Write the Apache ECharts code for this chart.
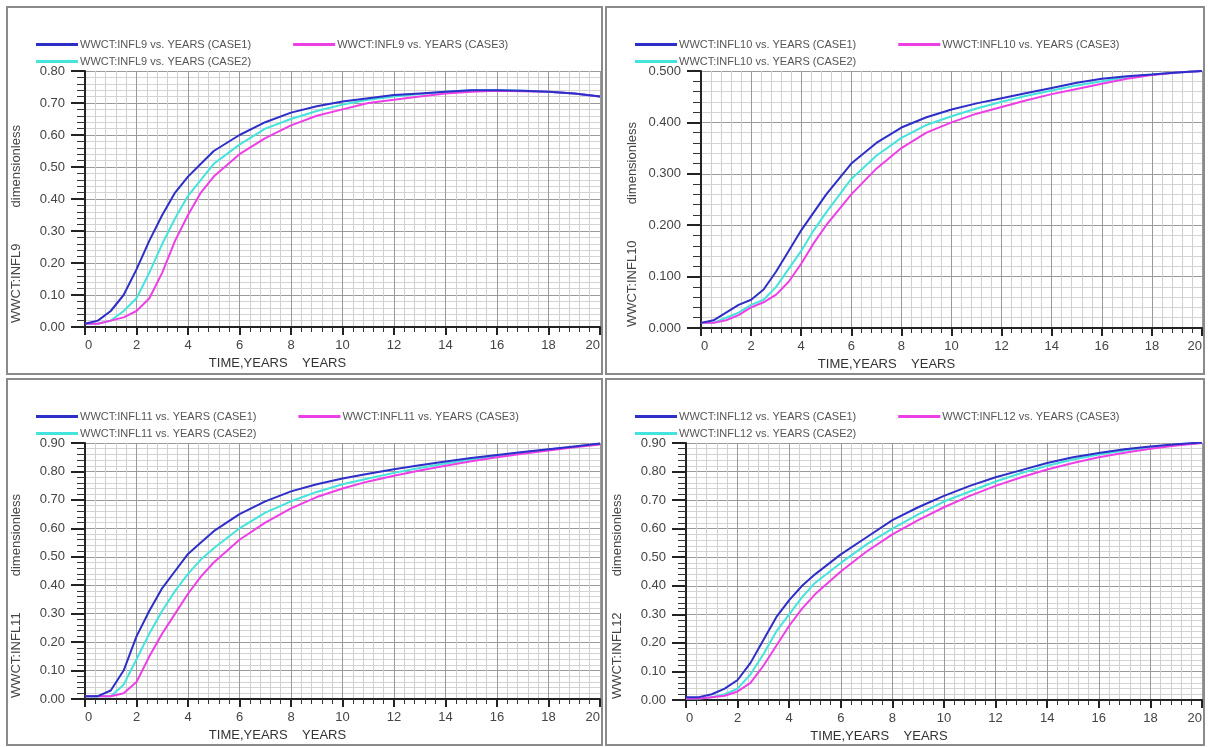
<!DOCTYPE html>
<html>
<head>
<meta charset="utf-8">
<script src="https://cdn.jsdelivr.net/npm/echarts@6/dist/echarts.min.js"></script>
<style>
  html, body { margin: 0; padding: 0; background: #fff; }
  #main { width: 1208px; height: 747px; }
</style>
</head>
<body>
<div id="main"></div>
<script>
// time axis (years), shared by all curves
var years = [0, 0.5, 1, 1.5, 2, 2.5, 3, 3.5, 4, 4.5, 5, 6, 7, 8, 9, 10, 11, 12, 13, 14, 15, 16, 17, 18, 19, 20];

// WWCT:INFL9
var infl9Case1 = [0.01, 0.02, 0.05, 0.10, 0.18, 0.27, 0.35, 0.42, 0.47, 0.51, 0.55, 0.60, 0.64, 0.67, 0.69, 0.705, 0.715, 0.725, 0.73, 0.735, 0.74, 0.74, 0.738, 0.735, 0.73, 0.72];
var infl9Case2 = [0.01, 0.01, 0.02, 0.05, 0.09, 0.17, 0.26, 0.34, 0.41, 0.46, 0.51, 0.57, 0.62, 0.65, 0.675, 0.695, 0.71, 0.72, 0.728, 0.735, 0.74, 0.74, 0.738, 0.735, 0.73, 0.72];
var infl9Case3 = [0.01, 0.01, 0.02, 0.03, 0.05, 0.09, 0.17, 0.27, 0.35, 0.42, 0.47, 0.54, 0.59, 0.63, 0.66, 0.68, 0.70, 0.71, 0.72, 0.73, 0.735, 0.738, 0.737, 0.735, 0.73, 0.72];

// WWCT:INFL10
var infl10Case1 = [0.01, 0.015, 0.03, 0.045, 0.055, 0.075, 0.11, 0.15, 0.19, 0.225, 0.26, 0.32, 0.36, 0.39, 0.41, 0.425, 0.437, 0.447, 0.457, 0.467, 0.477, 0.485, 0.49, 0.493, 0.497, 0.50];
var infl10Case2 = [0.01, 0.01, 0.02, 0.03, 0.045, 0.055, 0.08, 0.115, 0.15, 0.19, 0.225, 0.29, 0.335, 0.37, 0.395, 0.412, 0.427, 0.44, 0.452, 0.462, 0.472, 0.48, 0.488, 0.493, 0.497, 0.50];
var infl10Case3 = [0.01, 0.01, 0.015, 0.025, 0.04, 0.05, 0.065, 0.09, 0.125, 0.165, 0.2, 0.26, 0.31, 0.35, 0.38, 0.40, 0.417, 0.43, 0.443, 0.455, 0.465, 0.475, 0.485, 0.492, 0.497, 0.50];

// WWCT:INFL11
var infl11Case1 = [0.01, 0.01, 0.03, 0.10, 0.22, 0.31, 0.39, 0.45, 0.51, 0.55, 0.59, 0.65, 0.695, 0.73, 0.755, 0.775, 0.792, 0.808, 0.822, 0.835, 0.847, 0.858, 0.868, 0.878, 0.888, 0.898];
var infl11Case2 = [0.01, 0.01, 0.01, 0.05, 0.14, 0.23, 0.31, 0.38, 0.44, 0.49, 0.53, 0.60, 0.655, 0.695, 0.728, 0.755, 0.775, 0.795, 0.812, 0.828, 0.842, 0.855, 0.866, 0.877, 0.887, 0.897];
var infl11Case3 = [0.01, 0.01, 0.01, 0.02, 0.06, 0.15, 0.23, 0.30, 0.37, 0.43, 0.48, 0.56, 0.62, 0.67, 0.71, 0.74, 0.765, 0.785, 0.803, 0.82, 0.836, 0.85, 0.862, 0.874, 0.885, 0.895];

// WWCT:INFL12
var infl12Case1 = [0.01, 0.01, 0.02, 0.04, 0.07, 0.13, 0.21, 0.29, 0.35, 0.40, 0.44, 0.51, 0.57, 0.63, 0.675, 0.715, 0.75, 0.78, 0.805, 0.83, 0.85, 0.865, 0.878, 0.888, 0.896, 0.902];
var infl12Case2 = [0.005, 0.005, 0.01, 0.02, 0.04, 0.09, 0.16, 0.24, 0.30, 0.36, 0.41, 0.48, 0.545, 0.60, 0.65, 0.695, 0.73, 0.765, 0.795, 0.82, 0.842, 0.86, 0.874, 0.885, 0.894, 0.90];
var infl12Case3 = [0.005, 0.005, 0.01, 0.015, 0.03, 0.06, 0.12, 0.19, 0.26, 0.32, 0.37, 0.45, 0.52, 0.58, 0.63, 0.675, 0.715, 0.75, 0.78, 0.807, 0.83, 0.85, 0.866, 0.88, 0.891, 0.90];

var xTicks = [0, 2, 4, 6, 8, 10, 12, 14, 16, 18, 20];

var panels = [
  { well: 'INFL9',  yMax: 0.8, digits: 2, cases: [infl9Case1, infl9Case2, infl9Case3] },
  { well: 'INFL10', yMax: 0.5, digits: 3, cases: [infl10Case1, infl10Case2, infl10Case3] },
  { well: 'INFL11', yMax: 0.9, digits: 2, cases: [infl11Case1, infl11Case2, infl11Case3] },
  { well: 'INFL12', yMax: 0.9, digits: 2, cases: [infl12Case1, infl12Case2, infl12Case3] }
];

// panel boxes and plot areas (pixels)
var boxes = [
  { x: 7,   y: 7,   w: 595, h: 367 },
  { x: 606, y: 7,   w: 598, h: 367 },
  { x: 7,   y: 379, w: 595, h: 366 },
  { x: 606, y: 379, w: 598, h: 366 }
];
var plots = [
  { left: 85,  top: 71,  width: 515, height: 256 },
  { left: 701, top: 71,  width: 501, height: 257 },
  { left: 85,  top: 443, width: 515, height: 256 },
  { left: 686, top: 443, width: 516, height: 257 }
];

var caseColors = ['#2e2ec8', '#44e4dc', '#ee3fe6'];
var FONT = 'Liberation Sans, Arial, sans-serif';

var myChart = echarts.init(document.getElementById('main'));

var grid = [], xAxis = [], yAxis = [], series = [], legend = [], graphic = [];

panels.forEach(function (p, i) {
  var names = [1, 2, 3].map(function (n) {
    return 'WWCT:' + p.well + ' vs. YEARS (CASE' + n + ')';
  });
  var b = boxes[i], g = plots[i];

  graphic.push({
    type: 'rect', silent: true, z: 0,
    shape: { x: b.x, y: b.y, width: b.w, height: b.h },
    style: { fill: null, stroke: '#8a8a8a', lineWidth: 2 }
  });

  grid.push({ left: g.left, top: g.top, width: g.width, height: g.height, containLabel: false });

  xAxis.push({
    type: 'value', gridIndex: i, min: 0, max: 20, interval: 2,
    name: 'TIME,YEARS    YEARS', nameLocation: 'middle', nameGap: 30,
    nameTextStyle: { fontFamily: FONT, fontSize: 13, color: '#333', padding: [0, 130, 0, 0] },
    axisLine: { lineStyle: { color: '#222', width: 2 } },
    axisTick: { length: 8, lineStyle: { color: '#222', width: 2 } },
    minorTick: { show: true, splitNumber: 5, length: 5, lineStyle: { color: '#333', width: 1 } },
    splitLine: { show: true, lineStyle: { color: '#9a9a9a', width: 1 } },
    minorSplitLine: { show: true, lineStyle: { color: '#cfcfcf', width: 1 } },
    axisLabel: {
      fontFamily: FONT, fontSize: 13, color: '#444', margin: 12,
      alignMinLabel: 'left', alignMaxLabel: 'right',
      customValues: xTicks
    }
  });

  yAxis.push({
    type: 'value', gridIndex: i, min: 0, max: p.yMax, interval: 0.1,
    name: 'WWCT:' + p.well + '          dimensionless', nameLocation: 'middle', nameGap: 62,
    nameTextStyle: { fontFamily: FONT, fontSize: 13, color: '#444', padding: [0, 50, 0, 0] },
    axisLine: { show: true, lineStyle: { color: '#222', width: 2 } },
    axisTick: { show: true, length: 14, lineStyle: { color: '#222', width: 2 } },
    minorTick: { show: true, splitNumber: 5, length: 8, lineStyle: { color: '#333', width: 1 } },
    splitLine: { show: true, lineStyle: { color: '#9a9a9a', width: 1 } },
    minorSplitLine: { show: true, lineStyle: { color: '#d4d4d4', width: 1 } },
    axisLabel: {
      fontFamily: FONT, fontSize: 13, color: '#444', margin: 20,
      formatter: function (v) { return v.toFixed(p.digits); }
    }
  });

  // draw order: CASE2, CASE3 then CASE1 on top
  [1, 2, 0].forEach(function (k) {
    series.push({
      name: names[k], type: 'line', xAxisIndex: i, yAxisIndex: i,
      data: years.map(function (t, j) { return [t, p.cases[k][j]]; }),
      showSymbol: false, smooth: false,
      lineStyle: { color: caseColors[k], width: 2 },
      itemStyle: { color: caseColors[k] },
      z: k === 0 ? 4 : 3
    });
  });

  var legendCommon = {
    orient: 'horizontal', padding: 0, itemWidth: 42, itemHeight: 3, itemGap: 42,
    icon: 'rect', selectedMode: false,
    textStyle: { fontFamily: FONT, fontSize: 11, color: '#555', padding: [0, 0, 0, -3] }
  };
  legend.push(Object.assign({}, legendCommon, {
    left: b.x + 29, top: b.y + 32, data: [names[0], names[2]]
  }));
  legend.push(Object.assign({}, legendCommon, {
    left: b.x + 29, top: b.y + 49, data: [names[1]]
  }));
});

var option = {
  backgroundColor: '#fff',
  animation: false,
  graphic: graphic,
  legend: legend,
  grid: grid,
  xAxis: xAxis,
  yAxis: yAxis,
  series: series
};

myChart.setOption(option);
</script>
</body>
</html>
